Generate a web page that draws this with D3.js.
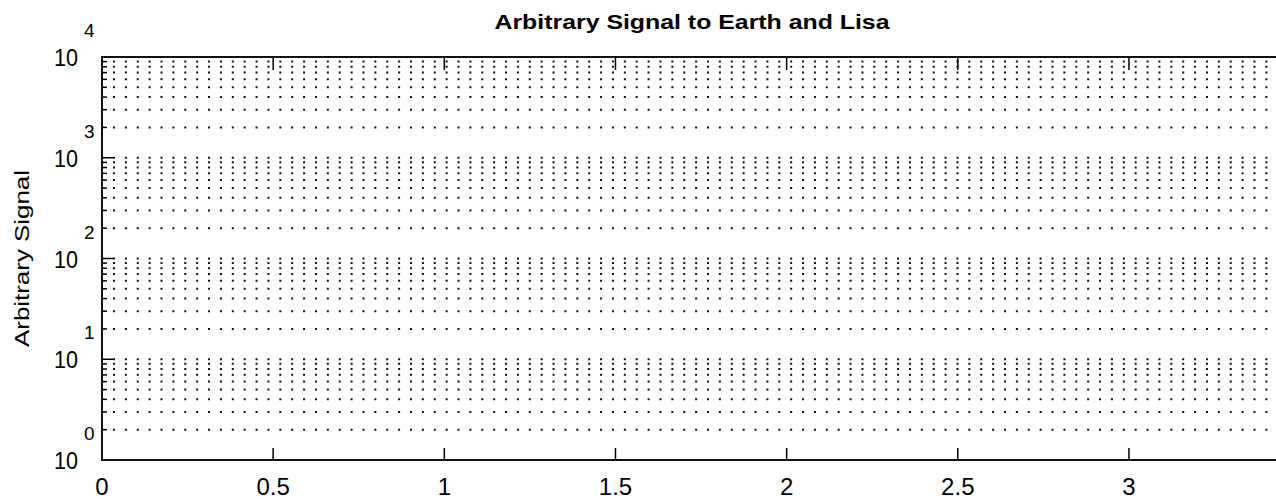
<!DOCTYPE html>
<html>
<head>
<meta charset="utf-8">
<script src="https://cdn.jsdelivr.net/npm/d3@7"></script>
<style>
  body { margin: 0; background: #fff; overflow: hidden; }
  text { font-family: "Liberation Sans", Arial, sans-serif; fill: #000; }
</style>
</head>
<body>
<svg id="chart"></svg>
<script>
// axis settings (the plot has no data lines)
const titleText = "Arbitrary Signal to Earth and Lisa";
const yLabelText = "Arbitrary Signal";
const xDomain = [0, 3.45];
const yDomain = [1, 10000];
const xTicks = [0, 0.5, 1, 1.5, 2, 2.5, 3];
const xTickLabels = ["0", "0.5", "1", "1.5", "2", "2.5", "3"];
const yExponents = [0, 1, 2, 3, 4];
const minorSteps = [2, 3, 4, 5, 6, 7, 8, 9];

const width = 1276, height = 499;
const plotLeft = 102, plotTop = 57, plotBottom = 460, plotRight = 1283;

const svg = d3.select("#chart").attr("width", width).attr("height", height);

const xScale = d3.scaleLinear().domain(xDomain).range([plotLeft, plotRight]);
const yScale = d3.scaleLog().domain(yDomain).range([plotBottom, plotTop]);

// grid values: every major and minor log step
let gridValues = [];
yExponents.forEach(function(e) {
    gridValues.push(Math.pow(10, e));
    if (e < 4) minorSteps.forEach(m => gridValues.push(m * Math.pow(10, e)));
});

svg.append("g")
    .selectAll("line")
    .data(gridValues)
    .enter()
    .append("line")
    .attr("x1", plotLeft)
    .attr("x2", plotRight)
    .attr("y1", d => yScale(d))
    .attr("y2", d => yScale(d))
    .attr("stroke", "#111")
    .attr("stroke-width", 2)
    .attr("stroke-dasharray", "2,9.88")
    .attr("stroke-dashoffset", -11);

// y ticks (inside, left)
const minorVals = gridValues.filter(v => !yExponents.some(e => Math.abs(v - Math.pow(10, e)) < 1e-9));
svg.append("g").selectAll("line")
    .data(minorVals).enter().append("line")
    .attr("x1", plotLeft).attr("x2", plotLeft + 5)
    .attr("y1", d => yScale(d)).attr("y2", d => yScale(d))
    .attr("stroke", "#000").attr("stroke-width", 1.5);
svg.append("g").selectAll("line")
    .data(yExponents).enter().append("line")
    .attr("x1", plotLeft).attr("x2", plotLeft + 11)
    .attr("y1", e => yScale(Math.pow(10, e))).attr("y2", e => yScale(Math.pow(10, e)))
    .attr("stroke", "#000").attr("stroke-width", 1.5);

// x ticks (inside, bottom and top)
const xt = svg.append("g").selectAll("g").data(xTicks).enter().append("g");
xt.append("line")
    .attr("x1", d => xScale(d)).attr("x2", d => xScale(d))
    .attr("y1", plotBottom).attr("y2", plotBottom - 12)
    .attr("stroke", "#000").attr("stroke-width", 1.5);
xt.append("line")
    .attr("x1", d => xScale(d)).attr("x2", d => xScale(d))
    .attr("y1", plotTop).attr("y2", plotTop + 13)
    .attr("stroke", "#000").attr("stroke-width", 1.5);

// axes box
svg.append("rect")
    .attr("x", plotLeft).attr("y", plotTop)
    .attr("width", plotRight - plotLeft).attr("height", plotBottom - plotTop)
    .attr("fill", "none").attr("stroke", "#111").attr("stroke-width", 2);

// x tick labels
svg.append("g").selectAll("text")
    .data(xTicks).enter().append("text")
    .attr("x", d => xScale(d))
    .attr("y", 495)
    .attr("text-anchor", "middle")
    .attr("font-size", 24)
    .text((d, i) => xTickLabels[i]);

// y tick labels 10^e
const yl = svg.append("g").selectAll("g").data(yExponents).enter().append("g");
yl.append("text")
    .attr("x", 78)
    .attr("y", e => yScale(Math.pow(10, e)) + 9)
    .attr("text-anchor", "end")
    .attr("font-size", 24)
    .attr("textLength", 24)
    .attr("lengthAdjust", "spacingAndGlyphs")
    .text("10");
yl.append("text")
    .attr("x", 84)
    .attr("y", e => yScale(Math.pow(10, e)) - 20)
    .attr("font-size", 19)
    .text(e => e);

// title
svg.append("text")
    .attr("x", 692)
    .attr("y", 29)
    .attr("text-anchor", "middle")
    .attr("font-size", 20)
    .attr("font-weight", "bold")
    .attr("textLength", 395)
    .attr("lengthAdjust", "spacingAndGlyphs")
    .text(titleText);

// y label
svg.append("text")
    .attr("transform", `translate(29, ${(plotTop + plotBottom) / 2}) rotate(-90)`)
    .attr("text-anchor", "middle")
    .attr("font-size", 20)
    .attr("textLength", 177)
    .attr("lengthAdjust", "spacingAndGlyphs")
    .text(yLabelText);
</script>
</body>
</html>
